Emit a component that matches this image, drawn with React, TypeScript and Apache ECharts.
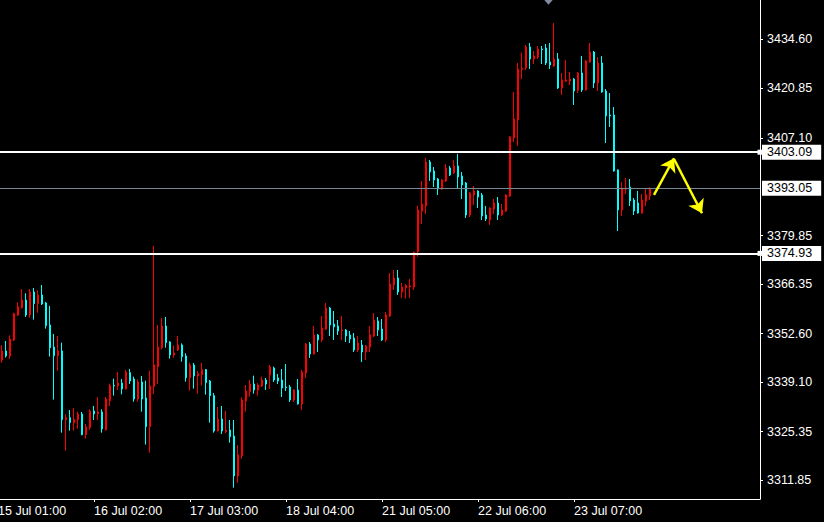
import React, { useEffect, useRef } from 'react';
import * as echarts from 'echarts';

// ---- Data (XAUUSD H1) ----
const openP = [
  3344.80, 3345.26, 3347.77, 3346.37, 3350.83, 3357.79, 3359.74, 3361.96, 3357.79, 3364.19,
  3360.94, 3363.35, 3361.13, 3355.00, 3348.88, 3346.47, 3347.77, 3328.65, 3329.21, 3327.81,
  3328.65, 3330.23, 3324.48, 3326.43, 3331.07, 3330.23, 3330.79, 3325.87, 3333.94, 3338.21,
  3338.03, 3338.86, 3337.20, 3341.74, 3339.97, 3334.41, 3339.14, 3334.69, 3326.71, 3337.84,
  3343.41, 3348.69, 3354.72, 3350.27, 3346.65, 3348.04, 3349.44, 3346.37, 3340.34, 3343.87,
  3340.81, 3341.18, 3342.57, 3339.42, 3335.34, 3325.50, 3328.84, 3325.32, 3325.78, 3324.11,
  3312.98, 3318.64, 3333.85, 3336.45, 3338.58, 3336.91, 3338.02, 3339.69, 3341.09, 3343.04,
  3340.25, 3339.69, 3337.75, 3337.75, 3334.13, 3336.91, 3333.02, 3341.64, 3349.71, 3346.93,
  3352.22, 3350.83, 3353.89, 3359.73, 3355.28, 3354.72, 3353.43, 3353.61, 3352.22, 3351.38,
  3348.04, 3349.44, 3347.49, 3348.88, 3351.94, 3356.12, 3353.89, 3350.83, 3357.51, 3366.14,
  3368.08, 3364.19, 3365.39, 3365.58, 3365.58, 3375.42, 3386.73, 3388.13, 3400.37, 3397.87,
  3395.64, 3392.86, 3395.08, 3398.70, 3397.31, 3399.26, 3396.47, 3394.53, 3385.62, 3391.18,
  3392.30, 3391.18, 3385.62, 3384.23, 3387.29, 3388.96, 3385.62, 3386.73, 3390.91, 3407.05,
  3412.06, 3426.16, 3426.53, 3432.37, 3429.03, 3429.59, 3431.82, 3432.09, 3428.20, 3427.08,
  3429.03, 3420.96, 3422.91, 3422.91, 3423.47, 3420.31, 3425.14, 3420.40, 3428.20, 3430.98,
  3422.35, 3427.92, 3420.13, 3413.45, 3413.45, 3398.14, 3387.01, 3392.85, 3393.41, 3389.79,
  3388.96, 3386.17, 3389.51, 3390.90
];
const highP = [
  3346.50, 3349.35, 3350.55, 3352.12, 3358.44, 3361.31, 3365.02, 3363.82, 3365.02, 3365.30,
  3364.65, 3366.14, 3361.41, 3360.29, 3352.50, 3351.94, 3350.08, 3330.13, 3331.34, 3331.90,
  3330.88, 3330.79, 3327.45, 3331.53, 3332.46, 3334.96, 3331.53, 3334.96, 3338.68, 3340.07,
  3341.92, 3339.98, 3342.48, 3342.76, 3340.62, 3339.88, 3340.81, 3339.51, 3342.29, 3376.99,
  3355.00, 3356.95, 3357.23, 3350.46, 3349.34, 3351.94, 3349.90, 3347.12, 3344.52, 3344.43,
  3342.20, 3344.43, 3342.76, 3339.69, 3336.08, 3332.18, 3332.46, 3331.07, 3328.56, 3328.56,
  3321.60, 3334.87, 3338.30, 3339.69, 3340.90, 3338.77, 3340.62, 3340.25, 3343.87, 3343.41,
  3341.37, 3342.76, 3344.15, 3338.30, 3337.10, 3339.97, 3342.48, 3349.99, 3350.27, 3354.72,
  3352.50, 3357.51, 3361.13, 3360.01, 3358.90, 3356.39, 3357.51, 3353.89, 3353.33, 3352.78,
  3351.94, 3350.83, 3349.44, 3354.72, 3358.34, 3357.23, 3356.67, 3358.62, 3369.47, 3370.31,
  3370.31, 3366.69, 3366.41, 3367.80, 3375.50, 3388.22, 3395.08, 3401.48, 3400.93, 3398.98,
  3395.92, 3395.64, 3399.82, 3399.26, 3400.93, 3402.60, 3397.59, 3394.80, 3392.02, 3393.69,
  3392.48, 3391.74, 3388.13, 3387.75, 3390.07, 3390.63, 3388.68, 3391.46, 3407.61, 3419.85,
  3427.92, 3430.80, 3432.93, 3433.49, 3431.26, 3432.65, 3432.65, 3433.21, 3433.49, 3439.05,
  3430.70, 3425.14, 3428.75, 3425.41, 3423.75, 3425.41, 3429.87, 3428.75, 3433.49, 3431.26,
  3429.59, 3429.87, 3420.68, 3419.57, 3415.67, 3398.32, 3394.80, 3395.91, 3395.63, 3390.35,
  3392.30, 3391.46, 3392.85, 3393.32
];
const lowP = [
  3343.90, 3344.52, 3345.91, 3345.54, 3350.55, 3357.51, 3359.64, 3357.23, 3357.04, 3356.49,
  3358.44, 3360.57, 3353.98, 3346.19, 3334.22, 3342.29, 3325.03, 3320.02, 3325.59, 3325.59,
  3326.15, 3324.30, 3323.36, 3325.87, 3328.55, 3328.55, 3325.03, 3325.59, 3332.46, 3335.34,
  3336.92, 3335.71, 3337.10, 3338.58, 3333.66, 3333.66, 3330.88, 3321.70, 3319.47, 3335.80,
  3338.58, 3348.23, 3348.69, 3345.63, 3345.91, 3347.77, 3344.80, 3339.23, 3336.73, 3337.28,
  3335.89, 3338.12, 3335.61, 3327.82, 3325.04, 3325.32, 3324.67, 3324.85, 3322.25, 3309.73,
  3311.12, 3317.80, 3330.88, 3335.06, 3335.89, 3335.33, 3337.75, 3336.91, 3337.19, 3339.14,
  3338.58, 3334.96, 3336.63, 3333.57, 3333.57, 3332.83, 3331.35, 3340.25, 3345.82, 3346.75,
  3347.49, 3350.27, 3353.61, 3351.94, 3350.83, 3352.22, 3350.83, 3350.27, 3349.99, 3347.49,
  3347.49, 3344.70, 3345.26, 3347.49, 3351.66, 3351.94, 3350.55, 3350.27, 3357.23, 3364.74,
  3363.35, 3362.52, 3362.33, 3362.52, 3364.74, 3374.02, 3383.11, 3385.90, 3395.08, 3393.41,
  3391.18, 3392.58, 3394.80, 3396.47, 3397.03, 3392.86, 3390.07, 3384.79, 3385.06, 3388.41,
  3387.57, 3384.23, 3383.95, 3382.84, 3385.90, 3384.23, 3385.34, 3386.45, 3390.63, 3405.94,
  3404.82, 3423.47, 3425.97, 3426.25, 3427.64, 3429.03, 3427.64, 3427.36, 3426.25, 3426.81,
  3420.68, 3419.01, 3422.63, 3421.80, 3416.23, 3419.57, 3419.85, 3420.22, 3428.01, 3420.96,
  3420.13, 3419.66, 3405.65, 3410.11, 3397.67, 3381.16, 3385.34, 3391.46, 3388.12, 3385.62,
  3385.99, 3385.99, 3388.12, 3389.79
];
const closeP = [
  3345.30, 3347.77, 3346.37, 3351.01, 3358.16, 3360.02, 3361.96, 3357.79, 3364.19, 3360.94,
  3363.35, 3360.85, 3354.82, 3348.69, 3346.47, 3347.77, 3328.65, 3329.21, 3327.81, 3328.75,
  3330.23, 3324.48, 3326.62, 3331.07, 3330.23, 3330.79, 3326.06, 3334.41, 3338.21, 3338.03,
  3338.86, 3337.20, 3341.92, 3339.42, 3334.41, 3339.14, 3334.41, 3326.71, 3338.03, 3343.87,
  3348.88, 3354.72, 3350.08, 3346.65, 3347.21, 3349.44, 3346.19, 3340.34, 3343.87, 3340.81,
  3341.46, 3342.57, 3338.95, 3335.34, 3325.50, 3328.84, 3325.50, 3325.78, 3323.92, 3312.98,
  3318.82, 3334.13, 3336.63, 3338.58, 3336.91, 3338.30, 3339.69, 3338.58, 3343.31, 3339.69,
  3339.42, 3337.47, 3337.56, 3334.13, 3336.91, 3333.02, 3341.92, 3349.71, 3346.93, 3352.22,
  3350.83, 3354.17, 3359.73, 3355.00, 3354.45, 3353.33, 3353.61, 3351.94, 3351.11, 3348.04,
  3349.99, 3347.49, 3349.16, 3352.22, 3356.39, 3353.61, 3350.83, 3357.79, 3366.41, 3368.08,
  3364.19, 3365.58, 3365.95, 3365.86, 3375.20, 3387.01, 3388.68, 3400.37, 3397.59, 3395.36,
  3392.86, 3395.36, 3398.70, 3396.75, 3399.26, 3396.20, 3393.97, 3385.62, 3391.74, 3392.30,
  3390.63, 3385.34, 3384.51, 3387.57, 3388.96, 3385.62, 3387.01, 3391.18, 3407.33, 3412.34,
  3426.25, 3426.44, 3432.37, 3429.03, 3429.87, 3431.82, 3431.63, 3427.92, 3427.36, 3429.03,
  3420.96, 3423.19, 3423.19, 3423.47, 3420.13, 3425.14, 3420.40, 3428.48, 3430.98, 3422.35,
  3427.92, 3419.85, 3413.17, 3413.17, 3397.86, 3387.01, 3393.13, 3393.13, 3389.51, 3386.73,
  3386.17, 3389.79, 3391.18, 3393.05
];

// trading days shown (each day has hours 01..23)
const tradingDays = ['15 Jul', '16 Jul', '17 Jul', '18 Jul', '21 Jul', '22 Jul', '23 Jul', '24 Jul', '25 Jul'];
const futureBars = 27;

// price axis labels
const yTickValues = [3434.60, 3420.85, 3407.10, 3379.85, 3366.35, 3352.60, 3339.10, 3325.35, 3311.85];
const levelLines = [3403.09, 3374.93];
const bidPrice = 3393.05;
// projected path (bar index, price)
const arrowUp = [[164, 3391.2], [169, 3401.4]];
const arrowDown = [[169, 3401.2], [176, 3386.1]];
const markerTop = [137, 3444.85];

const FONT = 'Liberation Sans';

function buildCategories(total: number): string[] {
  const cats: string[] = [];
  for (const d of tradingDays) {
    for (let h = 1; h <= 23; h++) {
      if (cats.length >= total) return cats;
      cats.push(`${d} ${String(h).padStart(2, '0')}:00`);
    }
  }
  return cats;
}

export default function App() {
  const ref = useRef<HTMLDivElement>(null);
  useEffect(() => {
    if (!ref.current) return;
    const chart = echarts.init(ref.current, undefined, { renderer: 'svg' });
    const nBars = openP.length;
    const categories = buildCategories(nBars + futureBars);
    const candles = openP.map((o, i) => [o, closeP[i], lowP[i], highP[i]]);
    const showIdx = (idx: number) => idx % 24 === 0 && idx < nBars;

    const boxLabel = {
      show: true,
      position: 'end',
      distance: 2,
      formatter: (p: any) => Number(p.value).toFixed(2),
      backgroundColor: '#ffffff',
      color: '#000000',
      fontFamily: FONT,
      fontSize: 12.5,
      lineHeight: 13,
      padding: [1, 9, 1, 5],
    };

    chart.setOption({
      animation: false,
      backgroundColor: '#000000',
      grid: { left: 0.5, right: 64, top: 0, bottom: 23, containLabel: false },
      xAxis: {
        type: 'category',
        data: categories,
        boundaryGap: true,
        axisLine: { show: true, lineStyle: { color: '#ffffff', width: 1 } },
        axisTick: {
          show: true,
          alignWithLabel: true,
          interval: (idx: number) => showIdx(idx),
          length: 3,
          lineStyle: { color: '#ffffff' },
        },
        axisLabel: {
          show: true,
          interval: (idx: number) => showIdx(idx),
          align: 'left',
          color: '#ffffff',
          fontFamily: FONT,
          fontSize: 12.5,
          margin: 5,
        },
        splitLine: { show: false },
      },
      yAxis: {
        type: 'value',
        position: 'right',
        min: 3306.57,
        max: 3445.45,
        scale: true,
        axisLine: { show: true, lineStyle: { color: '#ffffff', width: 1 } },
        axisTick: {
          show: true,
          customValues: yTickValues,
          length: 3,
          lineStyle: { color: '#ffffff' },
        },
        axisLabel: {
          show: true,
          customValues: yTickValues,
          formatter: (v: number) => v.toFixed(2),
          color: '#ffffff',
          fontFamily: FONT,
          fontSize: 12.5,
          margin: 7,
        },
        splitLine: { show: false },
      },
      series: [
        {
          type: 'candlestick',
          name: 'XAUUSD,H1',
          data: candles,
          barWidth: 2,
          itemStyle: {
            color: '#ff0000',
            color0: '#00ffff',
            borderColor: '#ff0000',
            borderColor0: '#00ffff',
            borderWidth: 1,
          },
          markLine: {
            silent: true,
            symbol: ['none', 'rect'],
            symbolSize: 5,
            lineStyle: { color: '#ffffff', width: 2, type: 'solid' },
            label: boxLabel,
            data: levelLines.map((v) => ({ yAxis: v })),
          },
          markPoint: {
            silent: true,
            symbol: 'triangle',
            symbolRotate: 180,
            symbolSize: [9, 5],
            symbolOffset: [2.5, 0],
            itemStyle: { color: '#7f8c9e' },
            label: { show: false },
            data: [{ coord: markerTop }],
          },
        },
        {
          type: 'line',
          name: 'bid',
          data: [],
          markLine: {
            silent: true,
            symbol: ['none', 'none'],
            lineStyle: { color: '#778899', width: 1, type: 'solid' },
            label: boxLabel,
            data: [{ yAxis: bidPrice }],
          },
        },
        {
          type: 'line',
          name: 'projection',
          data: [],
          markLine: {
            silent: true,
            symbol: ['none', 'arrow'],
            symbolSize: 13,
            lineStyle: { color: '#ffff00', width: 2.5, type: 'solid' },
            itemStyle: { color: '#ffff00' },
            label: { show: false },
            data: [
              [{ coord: arrowUp[0] }, { coord: arrowUp[1] }],
              [{ coord: arrowDown[0] }, { coord: arrowDown[1] }],
            ],
          },
        },
      ],
    });
    return () => chart.dispose();
  }, []);
  return (
    <div
      ref={ref}
      style={{ position: 'fixed', left: -5, top: 0, width: 829, height: 522 }}
    />
  );
}
